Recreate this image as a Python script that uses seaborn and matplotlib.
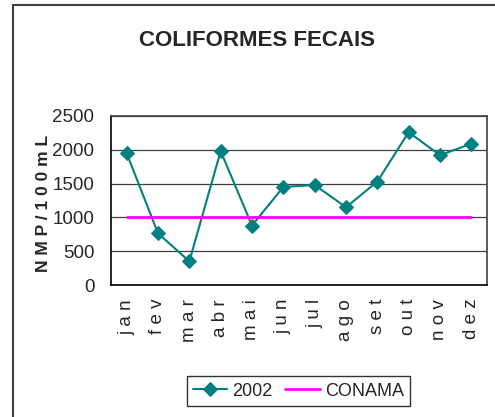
import matplotlib
matplotlib.use("Agg")
import matplotlib.pyplot as plt
from matplotlib import font_manager
from matplotlib.lines import Line2D
import numpy as np
import pandas as pd
import seaborn as sns

# data
months = ["jan", "fev", "mar", "abr", "mai", "jun", "jul", "ago", "set", "out", "nov", "dez"]
coliformes_2002 = [1950, 765, 350, 1980, 880, 1450, 1480, 1150, 1530, 2260, 1920, 2090]
conama = [1000] * 12
y_ticks = [0, 500, 1000, 1500, 2000, 2500]

sns.set_theme(style="white")
names = {f.name for f in font_manager.fontManager.ttflist}
fam = ["Liberation Sans Narrow", "Liberation Sans", "DejaVu Sans"]
fam = [f for f in fam if f in names] or ["DejaVu Sans"]
plt.rcParams["font.family"] = fam

df = pd.DataFrame({"mes": months, "2002": coliformes_2002, "CONAMA": conama})

fig = plt.figure(figsize=(4.95, 4.17), dpi=100)
ax = fig.add_axes([111 / 495, 1 - 285 / 417, 376 / 495, 169 / 417])

sns.lineplot(data=df, x="mes", y="2002", ax=ax, color="#008080", lw=1.5,
             marker="D", markersize=7, markeredgecolor="#008080", label="2002")
sns.lineplot(data=df, x="mes", y="CONAMA", ax=ax, color="#FF00FF", lw=2,
             label="CONAMA")

ax.set_xlim(-0.5, len(months) - 0.5)
ax.set_ylim(0, 2500)
ax.set_yticks(y_ticks)
ax.set_yticklabels([str(v) for v in y_ticks], fontsize=13.5)
ax.set_xticks(range(len(months)))
ax.set_xticklabels([" ".join(m) for m in months], rotation=90, fontsize=13.5)
ax.set_xticks(np.arange(-0.5, len(months)), minor=True)
ax.tick_params(axis="x", which="major", length=0, pad=10)
ax.tick_params(axis="x", which="minor", length=6, width=1, color="black", direction="out")
ax.tick_params(axis="y", length=6, width=1, color="black", direction="out", pad=6)
ax.yaxis.grid(True, color="#404040", lw=0.9)
ax.set_axisbelow(True)

for side in ["left", "bottom"]:
    ax.spines[side].set_color("black")
    ax.spines[side].set_linewidth(1.2)
for side in ["top", "right"]:
    ax.spines[side].set_color("#404040")
    ax.spines[side].set_linewidth(1.2)

ax.set_xlabel("")
ax.set_ylabel("N M P / 1 0 0 m L", fontsize=12.5, fontweight="bold")
ax.yaxis.set_label_coords(-0.16, 0.48)

fig.text(257 / 495, 1 - 40 / 417, "COLIFORMES FECAIS", ha="center", va="center",
         fontsize=16, fontweight="bold")

ax.get_legend().remove()
handles, labels = ax.get_legend_handles_labels()
leg = fig.legend(handles, labels, loc="center", bbox_to_anchor=(298.5 / 495, 1 - 391 / 417),
                 ncol=2, fontsize=13, frameon=True, fancybox=False, handlelength=1.9,
                 columnspacing=0.7, handletextpad=0.3, borderpad=0.35)
leg.get_frame().set_edgecolor("black")
leg.get_frame().set_linewidth(1.0)

# outer chart border (left and top only visible)
fig.add_artist(Line2D([13 / 495, 13 / 495], [0, 1 - 5 / 417], color="#404040", lw=1.5))
fig.add_artist(Line2D([13 / 495, 1], [1 - 5 / 417, 1 - 5 / 417], color="#404040", lw=1.5))

fig.savefig("out.png", dpi=100)
